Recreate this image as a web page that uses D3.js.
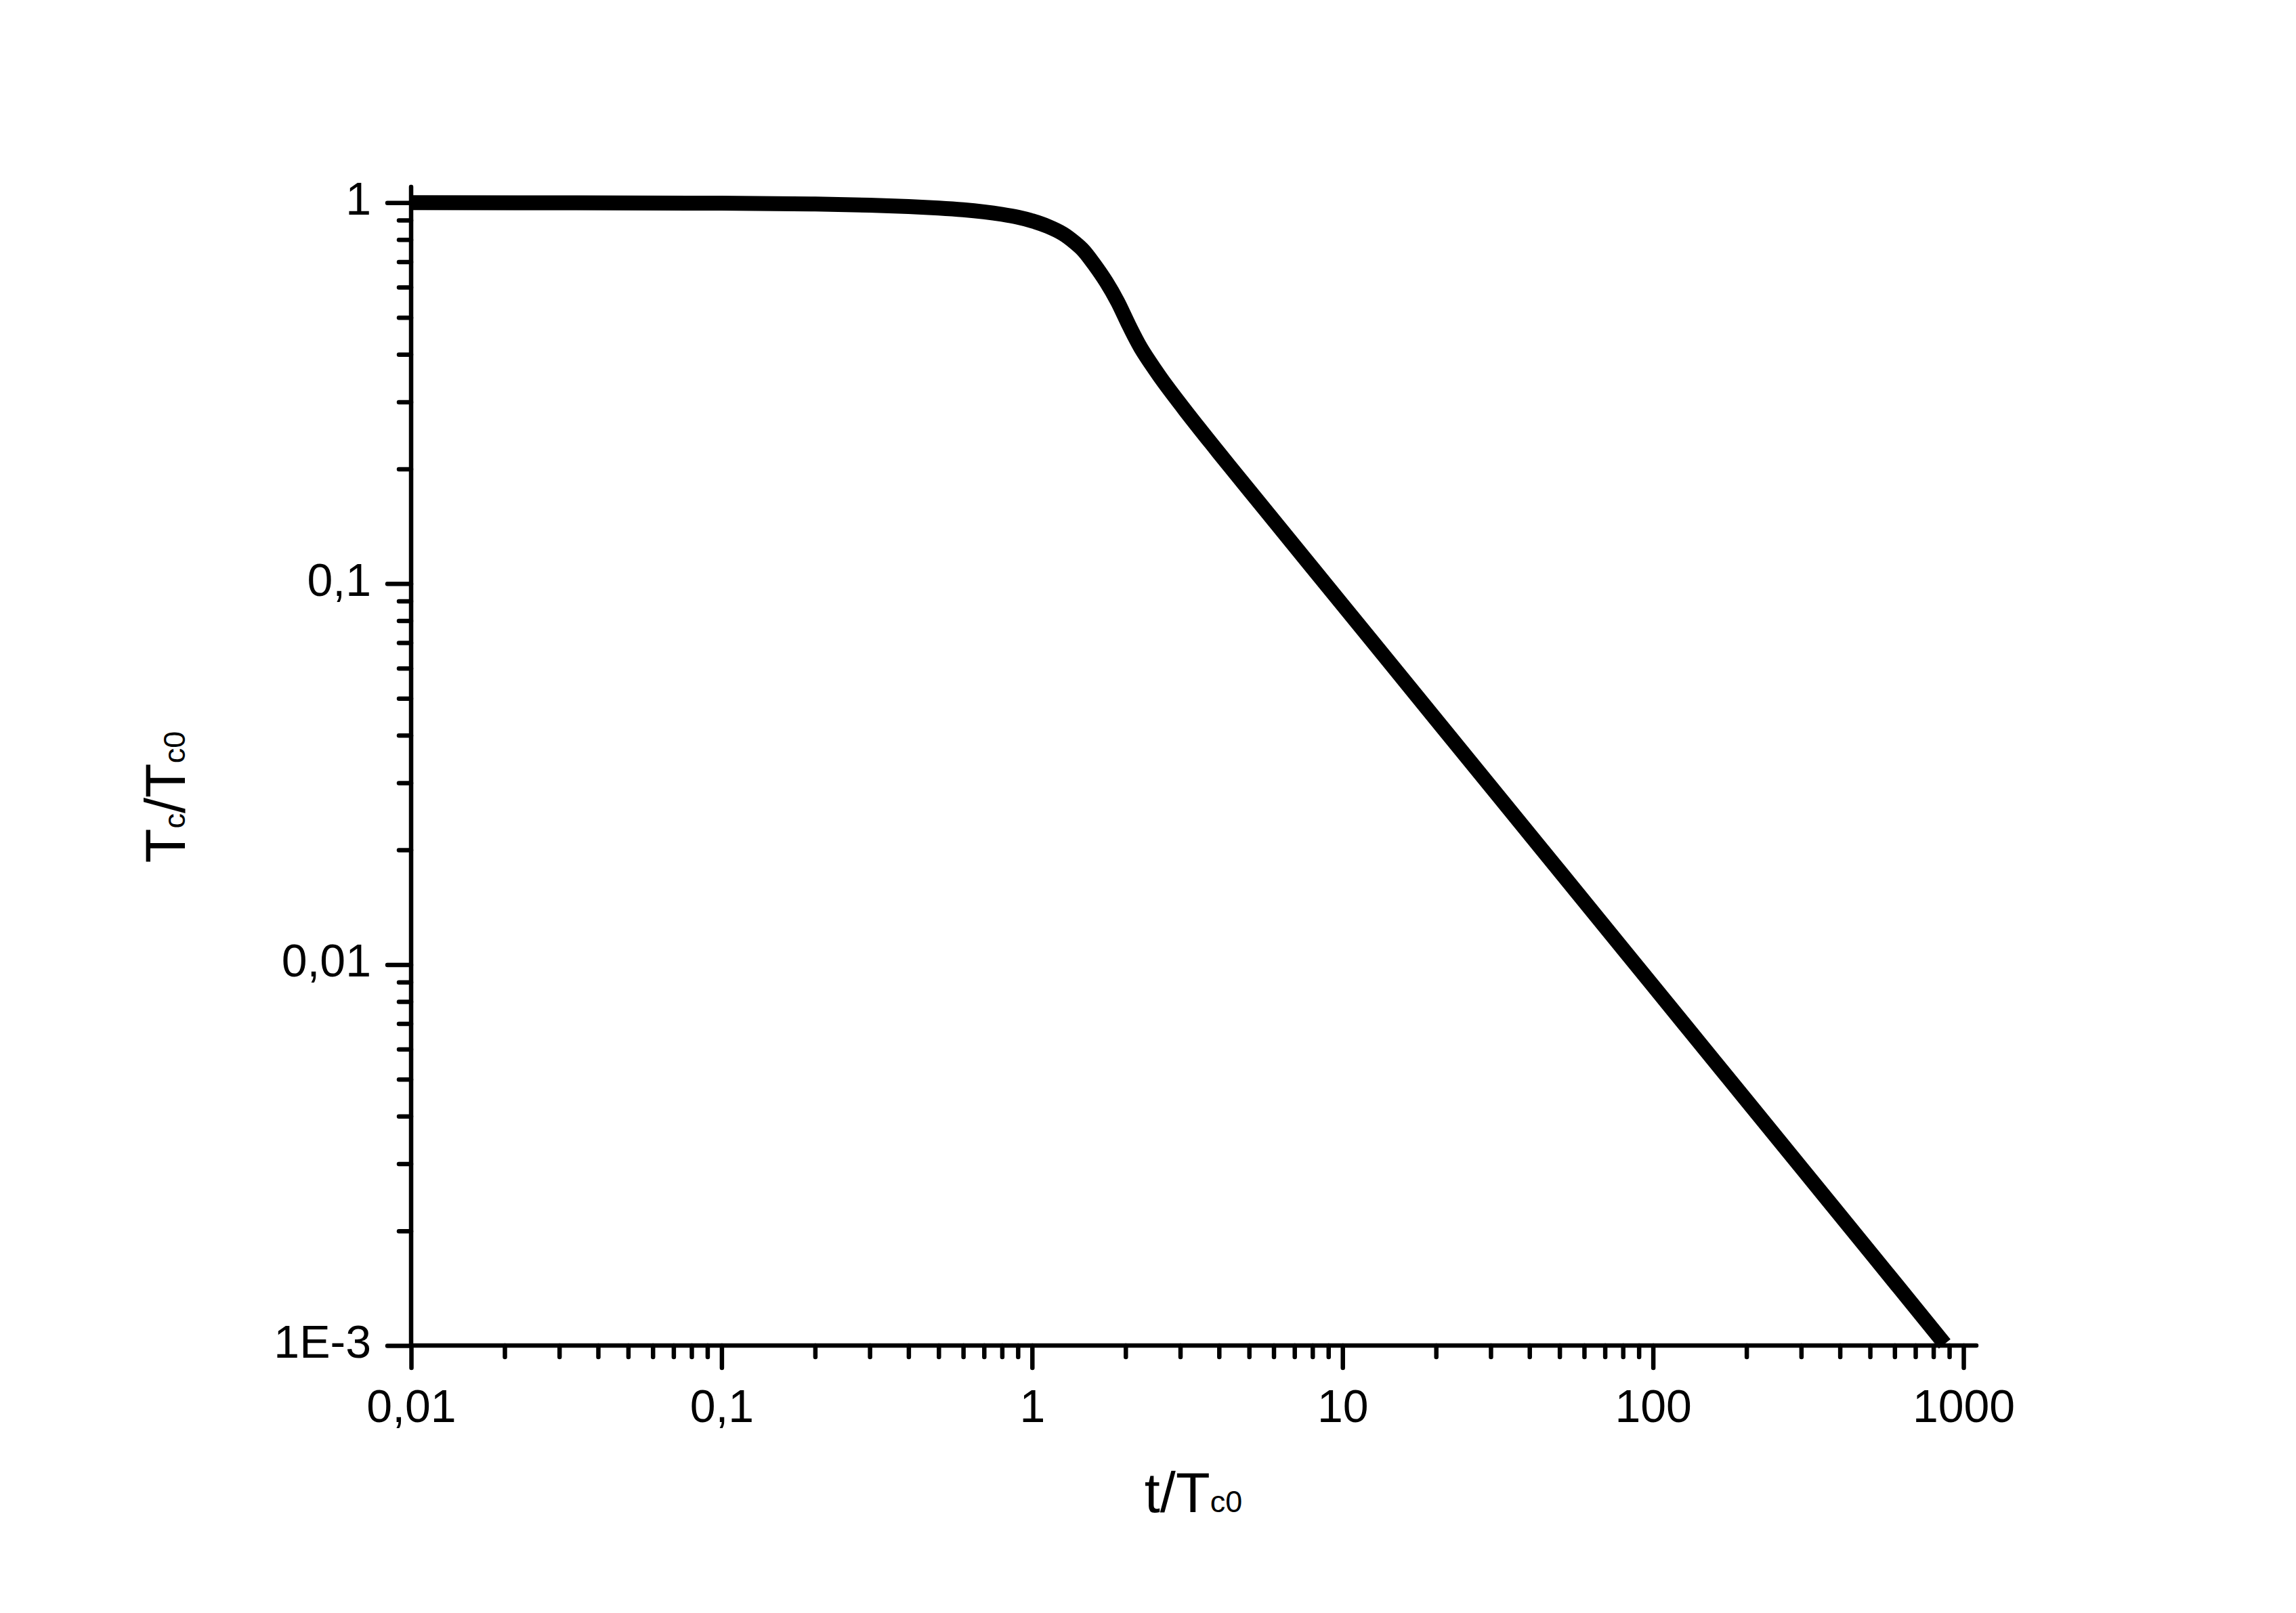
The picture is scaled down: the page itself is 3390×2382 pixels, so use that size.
<!DOCTYPE html>
<html>
<head>
<meta charset="utf-8">
<script src="https://cdn.jsdelivr.net/npm/d3@7"></script>
<style>
    body { margin: 0; background: #fff; }
    svg { display: block; }
</style>
</head>
<body>
<div id="chart"></div>
<script>
// t/Tc0 and Tc/Tc0
const tValues = [0.01, 0.1, 0.2, 0.3, 0.4, 0.5, 0.6, 0.7, 0.8, 0.9, 1.0, 1.122, 1.259, 1.38, 1.466,
    1.585, 1.734, 1.885, 2.053, 2.239, 2.5, 2.64, 3.115, 4, 5, 10, 20, 50, 100, 200, 500, 870];
const tcValues = [1.0, 0.997, 0.992, 0.985, 0.977, 0.968, 0.958, 0.946, 0.932, 0.916, 0.896, 0.867, 0.828, 0.783, 0.748,
    0.689, 0.619, 0.550, 0.476, 0.416, 0.3626, 0.3403, 0.2848, 0.2202, 0.176, 0.088, 0.044, 0.0176, 0.0088, 0.0044, 0.00176, 0.00101];

const xMajorTicks = [0.01, 0.1, 1, 10, 100, 1000];
const xTickLabels = ['0,01', '0,1', '1', '10', '100', '1000'];
const yMajorTicks = [0.001, 0.01, 0.1, 1];
const yTickLabels = ['1E-3', '0,01', '0,1', '1'];
const minorSteps = [2, 3, 4, 5, 6, 7, 8, 9];

const width = 3390;
const height = 2382;
const font = '"Liberation Sans", Arial, sans-serif';

const svg = d3.select('#chart')
    .append('svg')
    .attr('width', width)
    .attr('height', height);

svg.append('rect')
    .attr('width', width)
    .attr('height', height)
    .attr('fill', '#fff');

const x = d3.scaleLog()
    .domain([0.01, 1100])
    .range([607, 2918]);

const y = d3.scaleLog()
    .domain([0.001, 1.1])
    .range([1987, 276]);

// minor ticks between the decades
const xMinor = [];
xMajorTicks.forEach(d => minorSteps.forEach(m => {
    const v = d * m;
    if (v < x.domain()[1]) xMinor.push(v);
}));
const yMinor = [];
yMajorTicks.forEach(d => minorSteps.forEach(m => {
    const v = d * m;
    if (v < 1) yMinor.push(v);
}));

const axisColor = '#000';
const axisWidth = 6.5;

// x axis
const xAxis = svg.append('g')
    .attr('transform', `translate(0, ${y.range()[0]})`)
    .call(d3.axisBottom(x).tickValues(xMinor).tickSize(17).tickFormat(''));
xAxis.call(g => g.append('g')
    .call(d3.axisBottom(x).tickValues(xMajorTicks).tickSize(33).tickPadding(32)
        .tickFormat((d, i) => xTickLabels[i])));

// y axis
const yAxis = svg.append('g')
    .attr('transform', `translate(${x.range()[0]}, 0)`)
    .call(d3.axisLeft(y).tickValues(yMinor).tickSize(18).tickFormat(''));
yAxis.call(g => g.append('g')
    .call(d3.axisLeft(y).tickValues(yMajorTicks).tickSize(35).tickPadding(24)
        .tickFormat((d, i) => yTickLabels[i])));

[xAxis, yAxis].forEach(g => {
    g.selectAll('.domain').remove();
    g.selectAll('line')
        .attr('stroke', axisColor)
        .attr('stroke-width', axisWidth)
        .attr('stroke-linecap', 'round');
    g.selectAll('text')
        .attr('font-family', font)
        .attr('font-size', '68px')
        .attr('fill', '#000');
});
yAxis.selectAll('text').attr('dy', '0.36em').attr('y', -7);

// axis lines drawn on top so the ends are rounded
svg.append('line')
    .attr('x1', x.range()[0]).attr('x2', x.range()[1])
    .attr('y1', y.range()[0]).attr('y2', y.range()[0])
    .attr('stroke', axisColor)
    .attr('stroke-width', axisWidth)
    .attr('stroke-linecap', 'round');
svg.append('line')
    .attr('x1', x.range()[0]).attr('x2', x.range()[0])
    .attr('y1', y.range()[0]).attr('y2', y.range()[1])
    .attr('stroke', axisColor)
    .attr('stroke-width', axisWidth)
    .attr('stroke-linecap', 'round');

// curve
const line = d3.line()
    .x((d, i) => x(tValues[i]))
    .y(d => y(d))
    .curve(d3.curveCatmullRom.alpha(0.5));

svg.append('path')
    .datum(tcValues)
    .attr('d', line)
    .attr('fill', 'none')
    .attr('stroke', '#000')
    .attr('stroke-width', 22)
    .attr('stroke-linejoin', 'round');

// axis titles
const xTitle = svg.append('text')
    .attr('x', 1762)
    .attr('y', 2233)
    .attr('text-anchor', 'middle')
    .attr('font-family', font)
    .attr('font-size', '83px')
    .attr('fill', '#000');
xTitle.append('tspan').text('t/T');
xTitle.append('tspan').attr('font-size', '45px').text('c0');

const yTitle = svg.append('text')
    .attr('transform', 'translate(273, 1177) rotate(-90)')
    .attr('text-anchor', 'middle')
    .attr('font-family', font)
    .attr('font-size', '83px')
    .attr('fill', '#000');
yTitle.append('tspan').text('T');
yTitle.append('tspan').attr('font-size', '45px').text('c');
yTitle.append('tspan').text('/T');
yTitle.append('tspan').attr('font-size', '45px').text('c0');
</script>
</body>
</html>
